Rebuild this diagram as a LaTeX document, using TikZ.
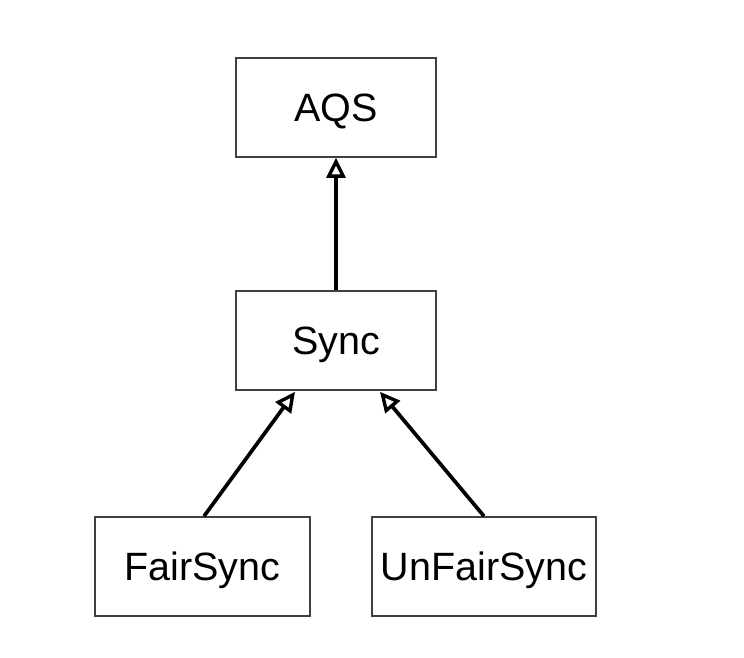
\documentclass[tikz,border=0pt]{standalone}
\usepackage{fontspec}
\setmainfont{Liberation Sans}
\usetikzlibrary{arrows.meta,calc}
\begin{document}
\begin{tikzpicture}[x=1pt,y=-1pt,
  box/.style={draw=black!75,line width=1.6pt,minimum width=#1,minimum height=99pt,inner sep=0pt,text height=28pt,text depth=0pt,font=\fontsize{39.5}{42}\selectfont},
  box/.default=200pt,
  inh/.style={line width=3.7pt,-{Triangle[open,length=20pt,width=19pt,line width=3.4pt]}}]
\useasboundingbox (0,0) rectangle (744,658);
\node[box] (aqs) at (336,107.5) {AQS};
\node[box] (sync) at (336,340.5) {Sync};
\node[box=215pt] (fair) at (202.5,566.5) {FairSync};
\node[box=224pt] (unfair) at (484,566.5) {UnFairSync};
\draw[inh] (sync.north) -- (aqs.south);
\draw[inh] ($(fair.north)+(1.5,0)$) -- ($(sync.south)+(-41,1)$);
\draw[inh] (unfair.north) -- ($(sync.south)+(44,1)$);
\end{tikzpicture}
\end{document}
